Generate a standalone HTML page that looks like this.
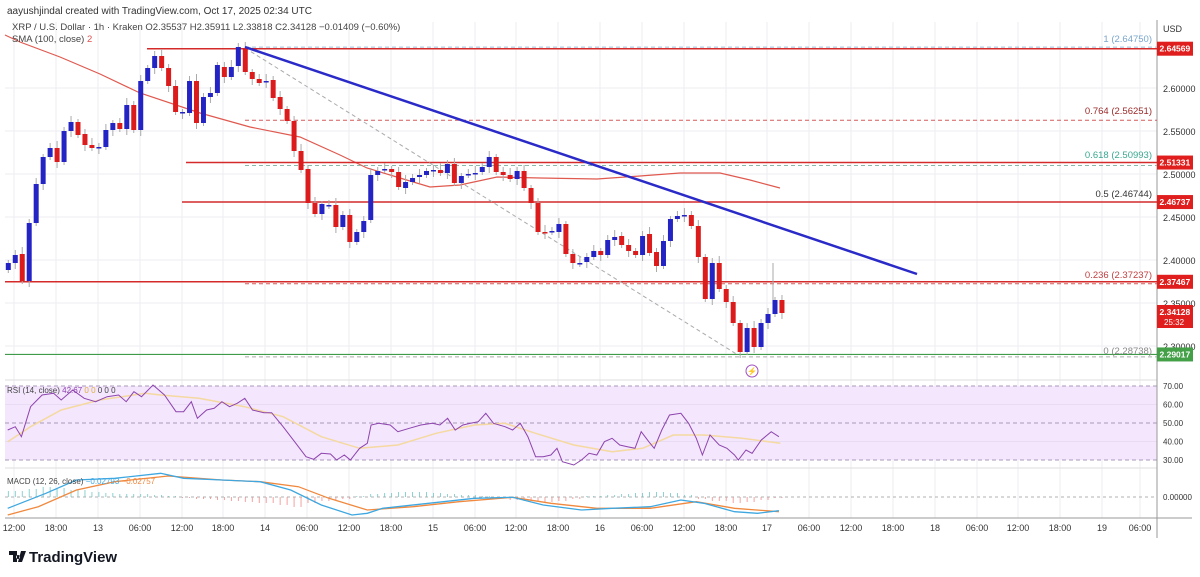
<!DOCTYPE html>
<html><head><meta charset="utf-8">
<style>
body{margin:0;background:#fff;width:1200px;height:577px;overflow:hidden;font-family:"Liberation Sans",sans-serif}
svg{position:absolute;left:0;top:0}
</style></head><body>
<svg id="s" width="1200" height="577" viewBox="0 0 1200 577" font-family="Liberation Sans, sans-serif"></svg>
<script>
const S=document.getElementById('s');let h='';
const add=t=>h+=t;
const tl=[[14,'12:00'],[56,'18:00'],[98,'13'],[140,'06:00'],[182,'12:00'],[223,'18:00'],[265,'14'],[307,'06:00'],[349,'12:00'],[391,'18:00'],[433,'15'],[475,'06:00'],[516,'12:00'],[558,'18:00'],[600,'16'],[642,'06:00'],[684,'12:00'],[726,'18:00'],[767,'17'],[809,'06:00'],[851,'12:00'],[893,'18:00'],[935,'18'],[977,'06:00'],[1018,'12:00'],[1060,'18:00'],[1102,'19'],[1140,'06:00']];
tl.forEach(([x,t])=>{add(`<line x1="${x}" y1="22" x2="${x}" y2="518" stroke="#eceef2" stroke-width="1"/>`);add(`<text x="${x}" y="531" font-size="9" fill="#333" text-anchor="middle">${t}</text>`)});
const py=p=>88+(2.60-p)*860;
[2.60,2.55,2.50,2.45,2.40,2.35,2.30].forEach(p=>{const y=py(p);add(`<line x1="5" y1="${y}" x2="1157" y2="${y}" stroke="#eceef2"/>`);add(`<text x="1163" y="${y+4}" font-size="9" fill="#333">${p.toFixed(5)}</text>`)});
add(`<rect x="5" y="386" width="1152" height="74" fill="#f3e6fd"/>`);
[[386,'70.00'],[404.5,'60.00'],[423,'50.00'],[441.5,'40.00'],[460,'30.00']].forEach(([y,t],i)=>{add(`<line x1="5" y1="${y}" x2="1157" y2="${y}" stroke="${i%2==0?'#a898b8':'#e8dcf4'}" ${i%2==0?'stroke-dasharray="4 3"':''}/>`);add(`<text x="1163" y="${y+3}" font-size="8" fill="#333">${t}</text>`)});
add(`<line x1="5" y1="497" x2="1157" y2="497" stroke="#b0b0b0" stroke-dasharray="3 3"/><text x="1163" y="500" font-size="8" fill="#333">0.00000</text>`);
add(`<line x1="5" y1="380" x2="1157" y2="380" stroke="#ddd"/><line x1="5" y1="468" x2="1157" y2="468" stroke="#ddd"/><line x1="5" y1="518" x2="1192" y2="518" stroke="#999"/><line x1="1157" y1="20" x2="1157" y2="538" stroke="#999"/>`);
add(`<polyline fill="none" stroke="#e0594f" stroke-width="1.2" points="5,35 20,42 60,57 100,74 140,93 200,113 250,127 300,137 340,155 367,168 400,178 430,187 460,185 497,177 540,178 597,179 640,176 680,173 720,173 750,180 780,188"/>`);
[[2.6475,'#9bbbd6'],[2.56251,'#d65a5a'],[2.50993,'#8ab8a8'],[2.46744,'#aaa'],[2.37237,'#d65a5a'],[2.28738,'#aaa']].forEach(([p,c])=>add(`<line x1="245" y1="${py(p)}" x2="1157" y2="${py(p)}" stroke="${c}" stroke-dasharray="4 3"/>`));
add(`<line x1="147" y1="${py(2.64569)}" x2="1157" y2="${py(2.64569)}" stroke="#d42a2a" stroke-width="1.5"/>`);
add(`<line x1="186" y1="${py(2.51331)}" x2="1157" y2="${py(2.51331)}" stroke="#d42a2a" stroke-width="1.5"/>`);
add(`<line x1="182" y1="${py(2.46737)}" x2="1157" y2="${py(2.46737)}" stroke="#d42a2a" stroke-width="1.5"/>`);
add(`<line x1="5" y1="${py(2.37467)}" x2="1157" y2="${py(2.37467)}" stroke="#d42a2a" stroke-width="1.5"/>`);
add(`<line x1="5" y1="${py(2.29017)}" x2="1157" y2="${py(2.29017)}" stroke="#3f9a4a" stroke-width="1.2"/>`);
add(`<line x1="245" y1="48" x2="738" y2="355" stroke="#aaa" stroke-dasharray="4 3"/>`);
const A=[[263,270,1],[255,263,1],[254,281,0],[223,281,1],[184,223,1],[157,184,1],[148,157,1],[148,162,0],[131,162,1],[122,131,1],[122,135,0],[134,145,0],[145,148,0],[147,148,1],[130,147,1],[123,130,1],[123,129,0],[105,129,1],[105,130,0],[81,130,1],[68,81,1],[56,68,1],[56,68,0],[68,86,0],[86,112,0],[112,113,1],[81,113,1],[81,123,0],[97,123,1],[93,97,1],[65,93,1],[67,77,0],[67,77,1],[47,66,1],[48,72,0],[72,79,0],[79,83,0],[81,82,1],[80,98,0],[97,109,0],[109,121,0],[121,151,0],[151,170,0],[169,203,0],[203,214,0],[204,214,1],[205,206,1],[205,227,0],[215,227,1],[215,242,0],[232,242,1],[221,232,1],[175,220,1],[171,175,1],[169,170,1],[169,172,0],[172,187,0],
[182,188,1],[178,182,1],[175,177,1],[171,175,1],[170,171,1],[170,173,0],[164,173,1],[164,183,0],[176,183,1],[174,175,1],[173,174,1],[167,172,1],[157,167,1],[157,172,0],[172,175,0],[175,179,0],[171,179,1],[171,188,0],[188,203,0],[203,232,0],[232,233,0],[231,232,1],[224,232,1],[224,254,0],[254,263,0],[263,264,1],[257,262,1],[251,257,1],[251,255,0],[240,255,1],[237,240,1],[236,245,0],[245,251,0],[251,255,0],[236,255,1],[234,253,0],[252,266,0],[241,266,1],[219,241,1],[216,219,1],[215,216,1],[215,226,0],[226,257,0],[257,299,0],[263,299,1],[263,289,0],[289,302,0],[302,323,0],[323,352,0],[328,352,1],[328,347,0],[323,347,1],[314,323,1],[300,314,1],[300,313,0]];
A.forEach(([t,b,u],i)=>{const x=8.3+i*6.97,c=u?'#2424c4':'#dc1c1c';const wt=t-3-((i*7)%5),wb=b+3+((i*3)%6);add(`<line x1="${x}" y1="${wt}" x2="${x}" y2="${wb}" stroke="#aaa" stroke-width="1"/>`);add(`<rect x="${x-2.5}" y="${t}" width="5" height="${Math.max(b-t,1.5)}" fill="${c}"/>`)});
add(`<line x1="773" y1="263" x2="773" y2="300" stroke="#aaa"/>`);
add(`<line x1="245" y1="47" x2="917" y2="274" stroke="#2a2ac8" stroke-width="2.5"/>`);
add(`<circle cx="752" cy="371" r="6" fill="none" stroke="#a050c0" stroke-width="1"/><text x="752" y="374" font-size="8" fill="#a050c0" text-anchor="middle">⚡</text>`);
[[39,'1 (2.64750)','#7aa6cc'],[111,'0.764 (2.56251)','#9c2a2a'],[155,'0.618 (2.50993)','#3aa890'],[194,'0.5 (2.46744)','#333'],[275,'0.236 (2.37237)','#c04040'],[351,'0 (2.28738)','#888']].forEach(([y,t,c])=>add(`<text x="1152" y="${y+3}" font-size="9.5" fill="${c}" text-anchor="end">${t}</text>`));
[[py(2.64569),'2.64569','#e01e1e'],[py(2.51331),'2.51331','#e01e1e'],[py(2.46737),'2.46737','#e01e1e'],[py(2.37467),'2.37467','#e01e1e'],[py(2.29017),'2.29017','#43a047']].forEach(([y,t,c])=>{add(`<rect x="1157" y="${y-7}" width="36" height="14" fill="${c}"/><text x="1159.5" y="${y+3}" font-size="8.5" fill="#fff" font-weight="bold">${t}</text>`)});
add(`<rect x="1157" y="305" width="36" height="23" fill="#e01e1e"/><text x="1159.5" y="315" font-size="8.5" fill="#fff" font-weight="bold">2.34128</text><text x="1164" y="325" font-size="8" fill="#fff">25:32</text>`);
add(`<text x="1163" y="32" font-size="9" fill="#333">USD</text>`);
const sx=1.307;
const rsi=[[10,150],[20,140],[28,170],[40,80],[55,45],[70,40],[80,60],[95,30],[110,55],[125,65],[140,50],[155,45],[165,65],[175,35],[185,50],[200,15],[215,45],[230,95],[240,95],[250,65],[258,115],[270,90],[280,85],[290,65],[300,80],[310,70],[320,55],[330,90],[345,98],[355,98],[370,140],[385,185],[400,230],[410,238],[420,220],[432,222],[440,240],[450,225],[458,240],[470,205],[480,190],[485,135],[495,130],[510,135],[520,155],[535,145],[550,135],[565,130],[575,135],[585,115],[595,150],[605,135],[615,130],[625,125],[635,100],[645,130],[660,140],[670,150],[680,130],[690,170],[700,230],[710,230],[720,225],[728,205],[735,245],[750,255],[760,240],[770,220],[780,225],[790,185],[800,175],[810,195],[820,200],[830,205],[838,155],[848,185],[855,205],[865,150],[875,105],[890,100],[900,130],[910,175],[918,225],[928,165],[940,195],[950,205],[960,225],[965,240],[975,210],[983,220],[995,180],[1008,155],[1018,170]];
const rma=[[10,185],[40,140],[80,90],[130,60],[190,40],[210,45],[260,55],[320,80],[370,110],[420,170],[470,205],[520,195],[570,160],[620,135],[660,130],[700,160],[750,195],[800,215],[840,205],[880,165],[920,165],[970,175],[1020,190]];
const pl=(a,c,w)=>add(`<polyline fill="none" stroke="${c}" stroke-width="${w}" points="${a.map(([x,y])=>(x/sx).toFixed(1)+','+(380+y/3).toFixed(1)).join(' ')}"/>`);
pl(rma,'#f5d9a0',1.5);pl(rsi,'#8e44ad',1);
const mb=[[10,385],[60,340],[100,300],[150,295],[210,280],[240,295],[290,300],[340,305],[380,330],[420,375],[460,405],[480,400],[500,385],[560,370],[620,355],[670,352],[710,375],[760,390],[800,385],[850,380],[890,360],[920,370],[960,395],[990,400],[1018,392]];
const ms=[[10,405],[50,380],[100,330],[150,305],[220,288],[290,300],[340,305],[390,320],[430,355],[480,390],[540,380],[600,365],[670,352],[720,370],[780,385],[850,385],[910,365],[960,385],[1018,395]];
for(let i=0;i<112;i++){const x=8.3+i*6.97;const v=[6,8,10,9,7,5,4,3,3,2,1,-1,-2,-3,-4,-5,-6,-8,-10,-6,-4,-2,1,3,4,5,5,4,3,2,1,-1,-3,-4,-5,-4,-2,1,2,3,4,5,4,2,-2,-4,-6,-5,-3,-1][Math.floor(i*50/112)];add(`<line x1="${x}" y1="497" x2="${x}" y2="${497-v}" stroke="${v>0?'#6fc7c7':'#f08a8a'}" stroke-width="0.8"/>`)}
pl(ms,'#f0883e',1.3);pl(mb,'#3ea7e0',1.3);
add(`<text x="7" y="14" font-size="10" fill="#333">aayushjindal created with TradingView.com, Oct 17, 2025 02:34 UTC</text>`);
add(`<text x="12" y="30" font-size="9.5" fill="#444">XRP / U.S. Dollar · 1h · Kraken  O2.35537  H2.35911  L2.33818  C2.34128  −0.01409 (−0.60%)</text>`);
add(`<text x="12" y="42" font-size="9.5" fill="#444">SMA (100, close) <tspan fill="#e05050">2</tspan></text>`);
add(`<text x="7" y="393" font-size="8" fill="#444">RSI (14, close) <tspan fill="#8e44ad">42.67</tspan> <tspan fill="#e0b040">0 0</tspan> 0 0 0</text>`);
add(`<text x="7" y="484" font-size="8" fill="#444">MACD (12, 26, close) <tspan fill="#3ea7e0">−0.02793</tspan> <tspan fill="#f0883e">−0.02757</tspan></text>`);
add(`<path d="M9 551h8v11h-4v-7h-4z M18 555a2 2 0 1 0 0.1 0z M21 551h5l-4 11h-4z" fill="#131722"/>`);
add(`<text x="29" y="562" font-size="15" font-weight="bold" fill="#131722">TradingView</text>`);
S.innerHTML=h;
</script>
</body></html>
